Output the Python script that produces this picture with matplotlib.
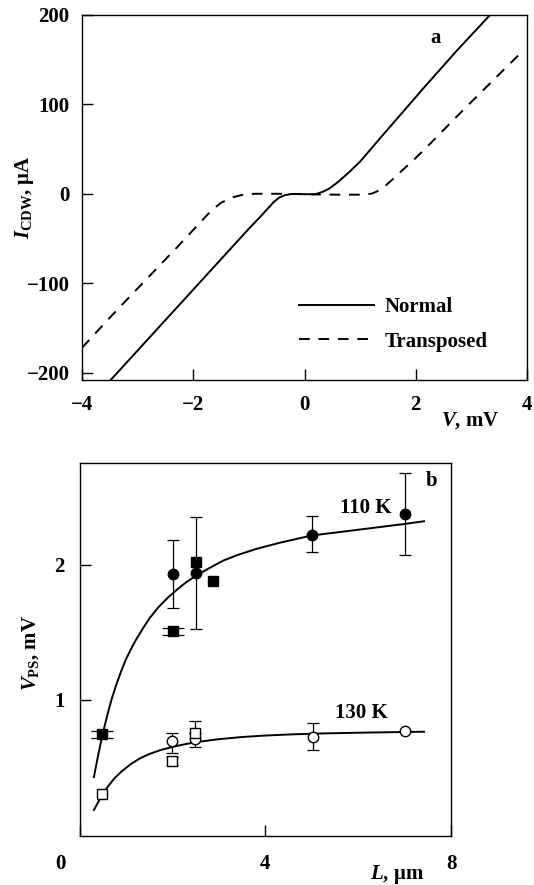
import matplotlib
matplotlib.use("Agg")
import matplotlib.pyplot as plt
from matplotlib.transforms import ScaledTranslation

plt.rcParams['font.family'] = ['Liberation Serif', 'DejaVu Serif']
plt.rcParams['font.weight'] = 'bold'
plt.rcParams['axes.labelweight'] = 'bold'
plt.rcParams['font.size'] = 15
plt.rcParams['mathtext.fontset'] = 'custom'
plt.rcParams['mathtext.rm'] = 'Liberation Serif:bold'
plt.rcParams['mathtext.it'] = 'Liberation Serif:italic:bold'
plt.rcParams['mathtext.bf'] = 'Liberation Serif:bold'
plt.rcParams['axes.unicode_minus'] = True

# panel a: I-V curves
v_normal = [-3.50, -3.0, -2.5, -2.0, -1.5, -1.0, -0.8, -0.66, -0.55, -0.45, -0.35, -0.25,
            -0.1, 0.0, 0.2, 0.34, 0.45, 0.6, 0.8, 1.0, 1.2, 1.4, 1.54, 2.14, 2.74, 3.34, 3.40]
i_normal = [-209, -175, -141, -107, -73, -39, -26, -16.5, -9, -4, -1.5, -0.4,
            -0.2, -0.5, -0.5, 2.5, 6, 13, 24, 36, 50.5, 65, 75, 118, 160, 200, 204]

v_trans = [-4.0, -3.42, -2.82, -2.28, -1.74, -1.62, -1.5, -1.3, -1.1, -0.9, -0.5, 0.0,
           0.5, 1.0, 1.2, 1.3, 1.42, 1.6, 1.72, 2.0, 2.26, 2.86, 3.46, 3.9]
i_trans = [-172, -133, -94, -59, -23, -16, -10, -4, -1, 0, 0, -0.5,
           -1, -1, 0, 2.5, 7, 17, 24, 40, 56, 94, 131, 158]

# panel b: V_PS vs L
L_fit110 = [0.31, 0.4, 0.5, 0.6, 0.7, 0.8, 0.9, 1.0, 1.1, 1.2, 1.35, 1.5, 1.7, 1.9, 2.1,
            2.3, 2.5, 2.8, 3.1, 3.4, 3.8, 4.3, 5.0, 5.6, 6.3, 7.0, 7.42]
v_fit110 = [0.43, 0.59, 0.75, 0.89, 1.015, 1.12, 1.215, 1.30, 1.37, 1.435, 1.52, 1.60,
            1.685, 1.755, 1.815, 1.87, 1.915, 1.975, 2.03, 2.07, 2.115, 2.16, 2.215,
            2.24, 2.27, 2.30, 2.32]
L_fit130 = [0.31, 0.45, 0.6, 0.75, 0.9, 1.1, 1.3, 1.5, 1.75, 2.0, 2.3, 2.6, 3.0, 3.5,
            4.0, 4.6, 5.3, 6.2, 7.42]
v_fit130 = [0.187, 0.275, 0.355, 0.42, 0.47, 0.525, 0.568, 0.60, 0.63, 0.653, 0.675,
            0.692, 0.71, 0.726, 0.737, 0.746, 0.753, 0.759, 0.765]

L_c110 = [2.01, 2.50, 5.00, 7.01]
v_c110 = [1.928, 1.938, 2.222, 2.37]
lo_c110 = [0.248, 0.413, 0.131, 0.296]
hi_c110 = [0.252, 0.412, 0.134, 0.306]

L_s110 = [0.48, 2.01, 2.50, 2.87]
v_s110 = [0.745, 1.508, 2.02, 1.88]
lo_s110 = [0.025, 0.025, 0.0, 0.0]
hi_s110 = [0.025, 0.025, 0.0, 0.0]

L_c130 = [1.985, 2.49, 5.03, 7.01]
v_c130 = [0.696, 0.708, 0.728, 0.77]
lo_c130 = [0.09, 0.058, 0.101, 0.0]
hi_c130 = [0.061, 0.05, 0.099, 0.0]

L_s130 = [0.49, 1.985, 2.49]
v_s130 = [0.305, 0.548, 0.757]
lo_s130 = [0.0, 0.03, 0.0]
hi_s130 = [0.0, 0.03, 0.089]

fig = plt.figure(figsize=(5.34, 8.85), dpi=100)

# ---- panel a ----
ax1 = fig.add_axes([0.1536, 0.5706, 0.8333, 0.4128])
ax1.plot(v_normal, i_normal, color='k', lw=1.4, label='Normal')
ax1.plot(v_trans, i_trans, color='k', lw=1.4, dashes=(5.5, 4.5), label='Transposed')
ax1.set_xlim(-4, 4)
ax1.set_ylim(-208, 200)
ax1.set_xticks([-4, -2, 0, 2, 4])
ax1.set_yticks([-200, -100, 0, 100, 200])
ax1.tick_params(direction='in', length=8, width=1, top=False, right=False)
ax1.tick_params(axis='y', pad=9)
ax1.tick_params(axis='x', pad=11)
ax1.set_ylabel(r'$I_{\mathrm{CDW}}$, μA')
ax1.yaxis.set_label_coords(-0.104, 0.5)
ax1.set_xlabel(r'$V$, mV')
ax1.xaxis.set_label_coords(0.872, -0.083)
ax1.text(2.36, 174, 'a', ha='center', va='center')
ax1.legend(loc='center left', bbox_to_anchor=(0.488, 0.1525), frameon=False,
           handlelength=3.6, handletextpad=0.5, labelspacing=0.7,
           borderpad=0, borderaxespad=0)

# ---- panel b ----
ax2 = fig.add_axes([0.1489, 0.0554, 0.6957, 0.4214])
ax2.plot(L_fit110, v_fit110, color='k', lw=1.4)
ax2.plot(L_fit130, v_fit130, color='k', lw=1.4)


def bars(xs, ys, lo, hi, cap):
    # only points that carry an error bar
    keep = [k for k in range(len(xs)) if lo[k] > 0 or hi[k] > 0]
    ax2.errorbar([xs[k] for k in keep], [ys[k] for k in keep],
                 yerr=[[lo[k] for k in keep], [hi[k] for k in keep]],
                 fmt='none', ecolor='k', elinewidth=0.9, capthick=0.9, capsize=cap)


bars(L_c110, v_c110, lo_c110, hi_c110, 4)
bars(L_s110, v_s110, lo_s110, hi_s110, 8)
bars(L_c130, v_c130, lo_c130, hi_c130, 4)
bars(L_s130, v_s130, lo_s130, hi_s130, 4)
ax2.plot(L_c110, v_c110, 'o', color='k', ms=7.5, zorder=4)
ax2.plot(L_s110, v_s110, 's', color='k', ms=7, zorder=4)
ax2.plot(L_c130, v_c130, 'o', mfc='white', mec='k', mew=1, ms=7.5, zorder=4)
ax2.plot(L_s130, v_s130, 's', mfc='white', mec='k', mew=1, ms=7, zorder=4)
ax2.set_xlim(0, 8)
ax2.set_ylim(-0.005, 2.75)
ax2.set_xticks([0, 4, 8])
ax2.set_yticks([1, 2])
ax2.tick_params(direction='in', length=8, width=1, top=False, right=False)
ax2.tick_params(axis='y', pad=10.5)
ax2.tick_params(axis='x', pad=13)
ax2.set_ylabel(r'$V_{\mathrm{PS}}$, mV')
ax2.yaxis.set_label_coords(-0.104, 0.49)
ax2.set_xlabel(r'$L$, μm')
ax2.xaxis.set_label_coords(0.855, -0.072)
ax2.text(7.58, 2.62, 'b', ha='center', va='center')
ax2.text(6.17, 2.42, '110 K', ha='center', va='center')
ax2.text(6.08, 0.907, '130 K', ha='center', va='center')

for ax in (ax1, ax2):
    for s in ax.spines.values():
        s.set_linewidth(1.0)

# the "0" label sits left of the corner
lab0 = ax2.get_xticklabels()[0]
lab0.set_transform(lab0.get_transform() + ScaledTranslation(-0.195, 0, fig.dpi_scale_trans))

fig.savefig('out.png', dpi=100)
